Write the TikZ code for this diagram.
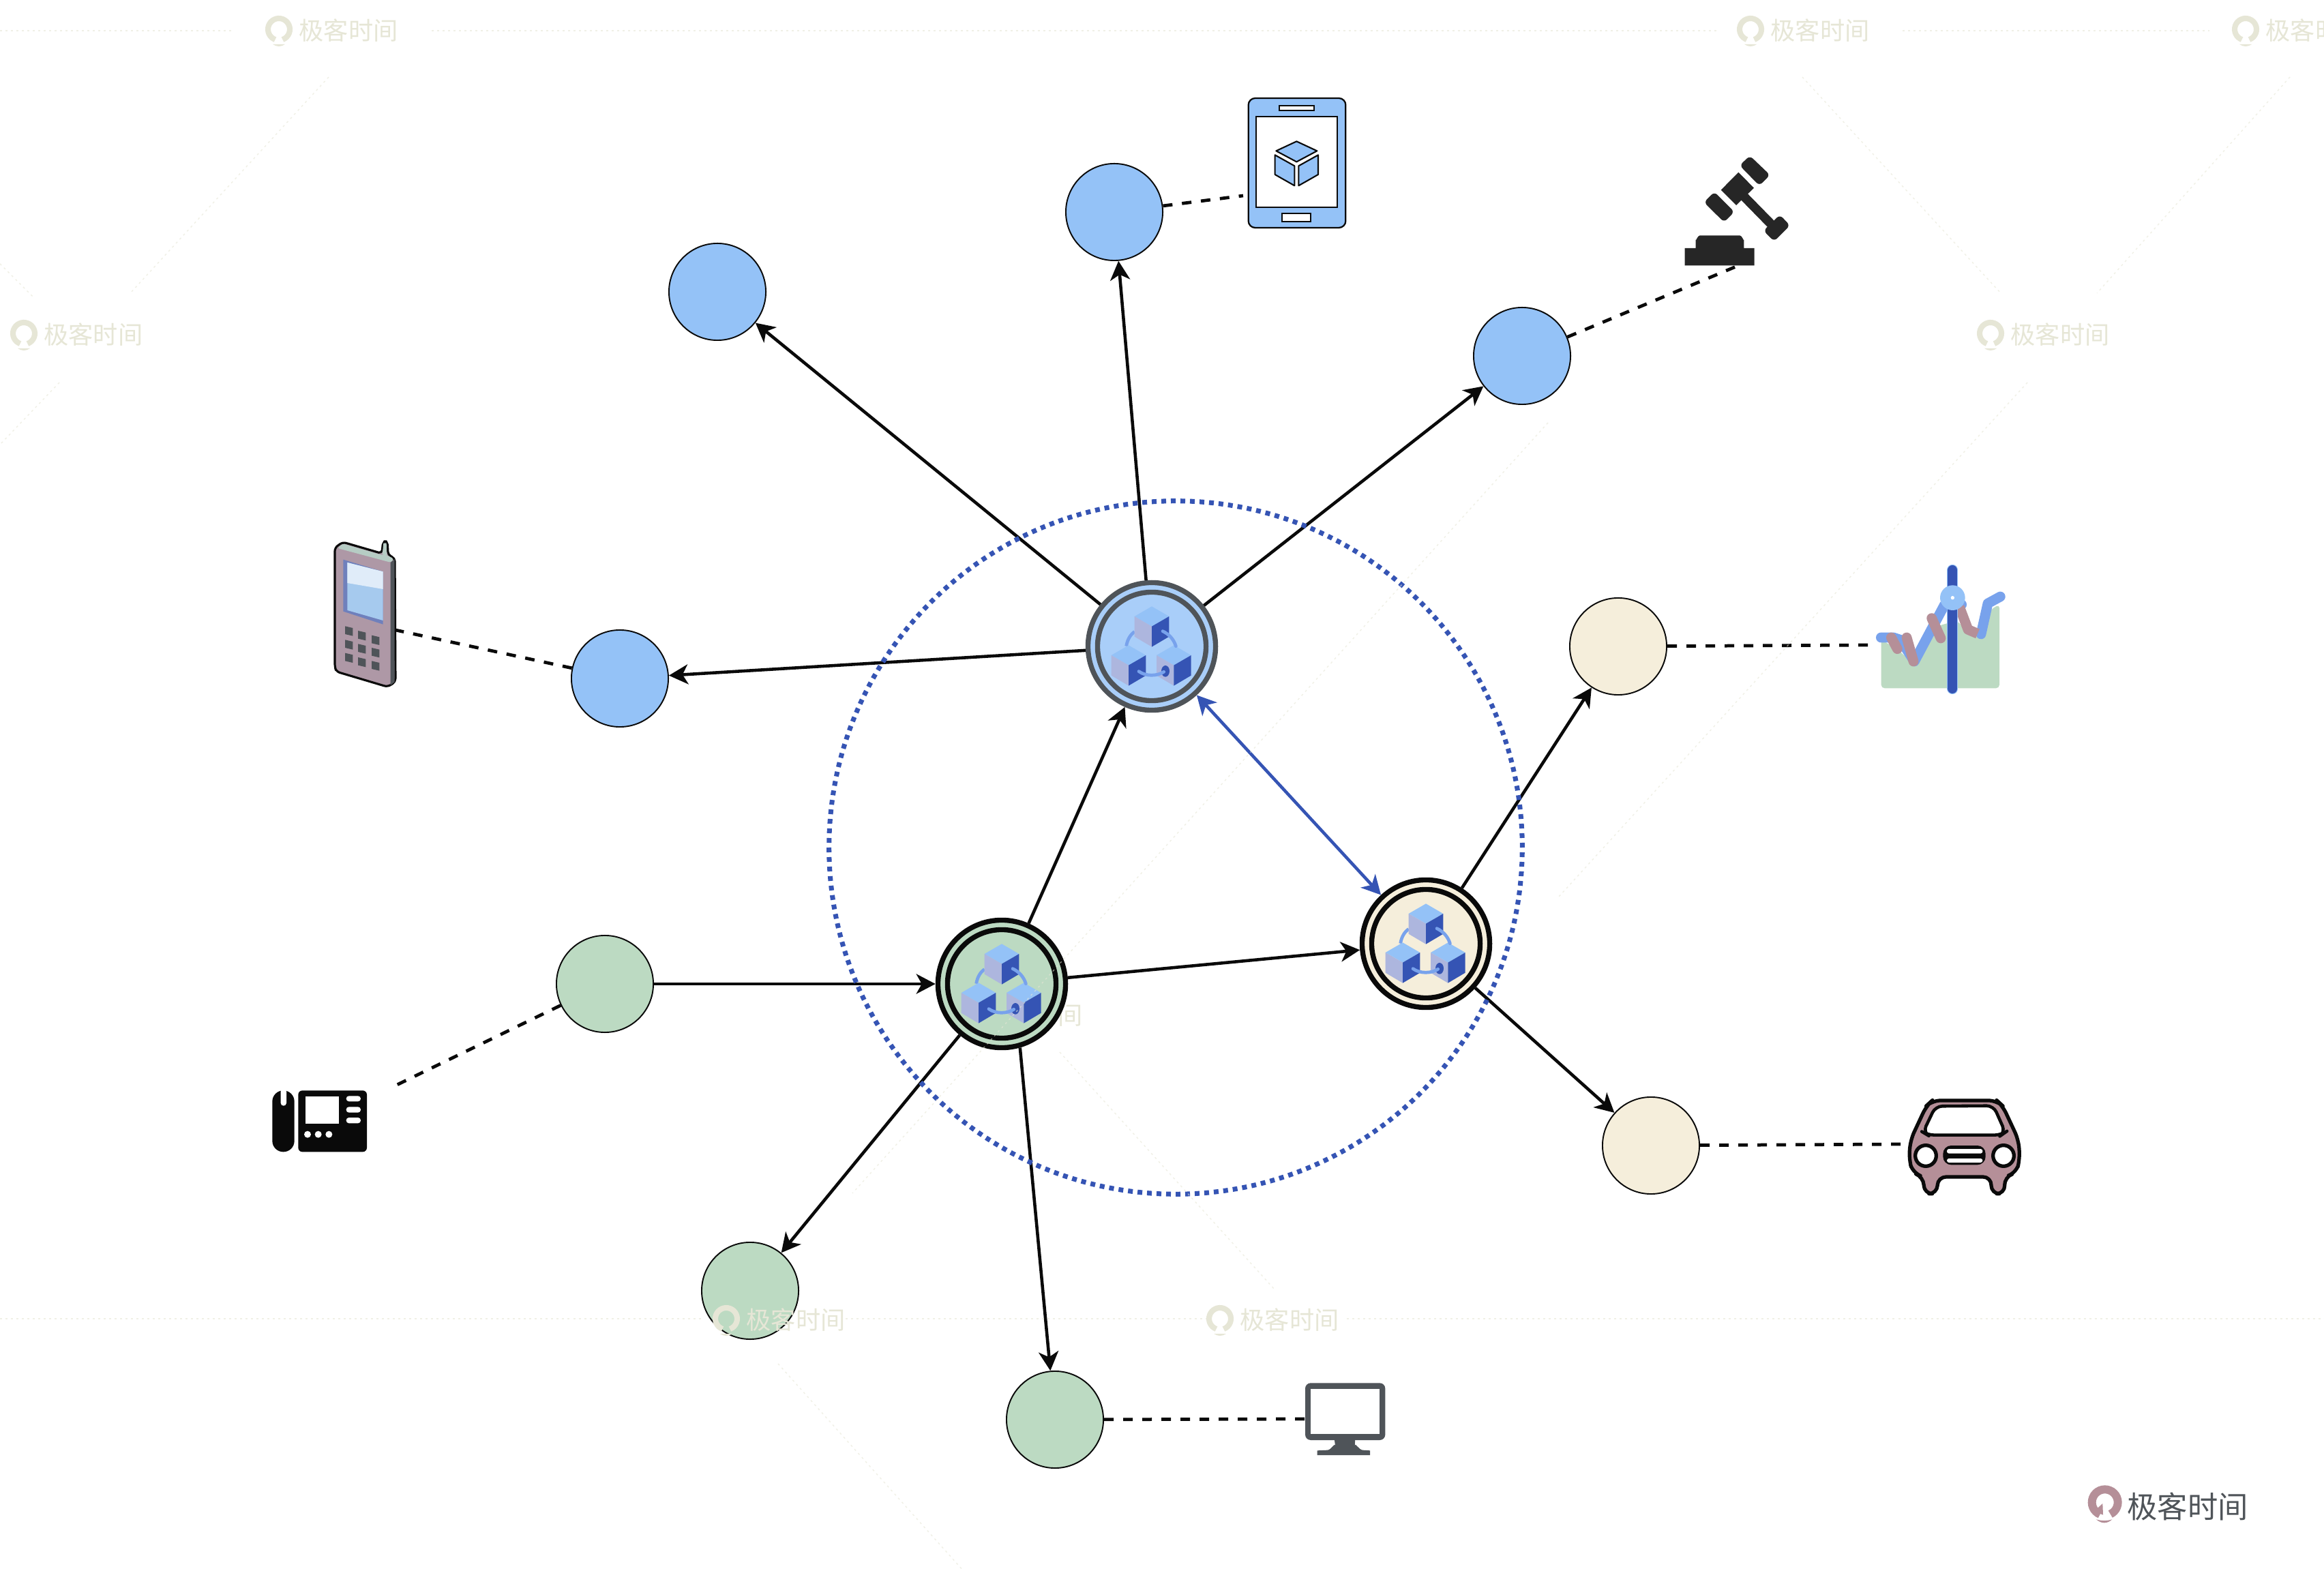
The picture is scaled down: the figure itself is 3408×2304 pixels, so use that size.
\documentclass[tikz,border=0pt]{standalone}
\usepackage{fontspec}
\newfontfamily\cjk{Noto Sans CJK SC}
\usetikzlibrary{arrows.meta}
\definecolor{lblue}{HTML}{94C2F7}
\definecolor{hubblue}{HTML}{A9CEF9}
\definecolor{dblue}{HTML}{3554B4}
\definecolor{midblue}{HTML}{78A2EC}
\definecolor{faceblue}{HTML}{ADB6DE}
\definecolor{cream}{HTML}{F5EEDB}
\definecolor{lgreen}{HTML}{BCDAC2}
\definecolor{mauve}{HTML}{B58F98}
\definecolor{mobilebody}{HTML}{AE98A6}
\definecolor{mobileedge}{HTML}{6F80BC}
\definecolor{mobilescreen}{HTML}{A6CAEE}
\definecolor{mobiletop}{HTML}{B6CCC4}
\definecolor{dgray}{HTML}{4F5459}
\definecolor{ink}{HTML}{0A0A0A}
\definecolor{gavelc}{HTML}{262626}
\definecolor{wm}{HTML}{E6E6D6}
\tikzset{
  small/.style={circle,draw=ink,line width=0.55pt,minimum size=1.42cm,inner sep=0pt},
  hub/.style={circle,draw=#1,line width=2.1pt,minimum size=1.87cm,inner sep=0pt},
  hubring/.style={circle,draw=#1,line width=2.1pt,minimum size=1.59cm,inner sep=0pt},
  arr/.style={draw=ink,line width=1.3pt,-{Stealth[length=2.8mm,width=2.9mm,inset=0.8mm]}},
  bluearr/.style={draw=dblue,line width=1.3pt,{Stealth[length=2.8mm,width=2.9mm,inset=0.8mm]}-{Stealth[length=2.8mm,width=2.9mm,inset=0.8mm]}},
  dashline/.style={draw=ink,line width=1.35pt,dash pattern=on 0.14cm off 0.14cm},
  faint/.style={draw=wm,line width=0.4pt,dash pattern=on 0.03cm off 0.05cm,opacity=.6},
  wmtext/.style={text=wm,font=\cjk\fontsize{10.3pt}{12pt}\selectfont,inner sep=0pt},
  logotext/.style={text=dgray,font=\cjk\fontsize{12.6pt}{14pt}\selectfont,inner sep=0pt},
}
% three linked cubes, drawn around a named centre
\newcommand{\cubeset}[1]{%
\begin{scope}[shift={(#1)},scale=1/3,shift={(-392,-373)}]
  \draw[midblue,line width=1.35pt] (280,372) .. controls (285,340) and (300,320) .. (316,308);
  \foreach \dx/\dy in {0/0,-102/171,97/171}{
    \begin{scope}[shift={(\dx,\dy)}]
      \fill[lblue] (392,197)--(468,241)--(392,285)--(316,241)--cycle;
      \fill[faceblue] (316,241)--(392,285)--(392,375)--(316,330)--cycle;
      \fill[dblue] (392,285)--(468,241)--(468,330)--(392,375)--cycle;
    \end{scope}}
  \fill[dblue] (452,482) ellipse[x radius=18,y radius=25];
  \draw[midblue,line width=1.35pt,line cap=round] (440,306) .. controls (470,320) and (490,345) .. (498,372);
  \draw[midblue,line width=1.35pt,line cap=round] (335,483) .. controls (365,505) and (415,505) .. (445,485);
\end{scope}}
% faint watermark: ring + text
\newcommand{\wmark}[3]{%
\begin{scope}[shift={(#2,#3)}]
  \draw[wm,line width=2.3pt] (110:16) arc[start angle=110,end angle=430,radius=16];
  \fill[wm] (-9,22) .. controls (-3,26) and (3,26) .. (9,22) -- cycle;
  \node[wmtext] (#1) at (102,2) {极客时间};
\end{scope}}
\begin{document}
\begin{tikzpicture}[x=0.01cm,y=-0.01cm]
\useasboundingbox (0,0) rectangle (3408,2304);
\fill[white] (0,0) rectangle (3408,2304);

% watermark lying behind the green hub
\wmark{wm8}{1413}{1487}

% small circles
\node[small,fill=lblue] (b1) at (1052,428) {};
\node[small,fill=lblue] (b2) at (1634,311) {};
\node[small,fill=lblue] (b3) at (2232,522) {};
\node[small,fill=lblue] (b4) at (909,995) {};
\node[small,fill=cream] (c1) at (2373,948) {};
\node[small,fill=cream] (c2) at (2421,1680) {};
\node[small,fill=lgreen] (g1) at (887,1443) {};
\node[small,fill=lgreen] (g2) at (1100,1893) {};
\node[small,fill=lgreen] (g3) at (1547,2082) {};

% hubs
\node[hub=dgray,fill=hubblue] (top) at (1689,948) {};
\node[hubring=dgray] (topring) at (top.center) {};
\node[hub=ink,fill=cream] (right) at (2091,1384) {};
\node[hubring=ink] (rightring) at (right.center) {};
\node[hub=ink,fill=lgreen] (left) at (1469,1443) {};
\node[hubring=ink] (leftring) at (left.center) {};
\cubeset{top.center}
\cubeset{right.center}
\cubeset{left.center}

% arrows
\draw[arr] (top) -- (b1);
\draw[arr] (top) -- (b2);
\draw[arr] (top) -- (b3);
\draw[arr] (top) -- (b4);
\draw[arr] (left) -- (top);
\draw[arr] (left) -- (right);
\draw[arr] (g1) -- (left);
\draw[arr] (left) -- (g2);
\draw[arr] (left.-74) -- (g3);
\draw[arr] (right) -- (c1);
\draw[arr] (right) -- (c2);
\draw[bluearr] (top) -- (right);

% dotted boundary
\draw[dblue,line width=2pt,dash pattern=on 0.07cm off 0.07cm] (1724,1243) circle[radius=5.08cm];

% dashed connectors
\coordinate (e-tablet) at (1823,287);
\coordinate (e-gavel) at (2548,390);
\coordinate (e-mobile) at (580,924);
\coordinate (e-chart) at (2740,946);
\coordinate (e-car) at (2787,1678);
\coordinate (e-desk) at (578,1593);
\coordinate (e-monitor) at (1913,2081);
\draw[dashline] (b2) -- (e-tablet);
\draw[dashline] (b3) -- (e-gavel);
\draw[dashline] (b4) -- (e-mobile);
\draw[dashline] (c1) -- (e-chart);
\draw[dashline] (c2) -- (e-car);
\draw[dashline] (g1) -- (e-desk);
\draw[dashline] (g3) -- (e-monitor);

% tablet
\begin{scope}[shift={(1760,120)},scale=1/3]
  \draw[ink,fill=lblue,line width=0.65pt,rounded corners=0.1cm] (212,72) rectangle (640,642);
  \draw[ink,fill=white,line width=0.65pt] (246,153) rectangle (603,551);
  \draw[ink,fill=white,line width=0.65pt] (349,105) rectangle (500,126);
  \draw[ink,fill=white,line width=0.65pt] (361,579) rectangle (487,614);
  \draw[ink,fill=lblue,line width=0.6pt,line join=round] (424,262)--(514,304)--(424,352)--(334,304)--cycle;
  \draw[ink,fill=lblue,line width=0.6pt,line join=round] (329,322)--(415,370)--(415,457)--(329,408)--cycle;
  \draw[ink,fill=lblue,line width=0.6pt,line join=round] (433,370)--(519,322)--(519,408)--(433,457)--cycle;
\end{scope}

% gavel
\begin{scope}[shift={(2440,200)},scale=1/3]
  \fill[gavelc] (92,492)--(140,492)--(140,455) to[out=-90,in=180] (158,436)--(334,436) to[out=0,in=-90] (352,455)--(352,492)--(398,492)--(398,568)--(92,568)--cycle;
  \fill[gavelc] (328,158)--(396,227)--(318,303)--(251,236)--cycle;
  \draw[gavelc,line width=3.8pt] (350,262)--(490,405);
  \fill[gavelc,rounded corners=0.06cm] (510,345)--(555,392)--(485,462)--(438,415)--cycle;
  \fill[gavelc,rounded corners=0.06cm] (378,85)--(467,170)--(420,217)--(333,128)--cycle;
  \fill[gavelc,rounded corners=0.06cm] (222,244)--(310,332)--(265,378)--(176,290)--cycle;
\end{scope}

% mobile phone
\begin{scope}[shift={(460,770)},scale=1/3]
  \draw[ink,fill=mobilebody,line width=0.9pt,line join=round,rounded corners=0.05cm]
    (128,75)--(300,125)--(305,72)--(325,72)--(327,132)--(357,145)--(360,690)--(325,712)--(100,645)--(93,625)--(93,100)--cycle;
  \fill[mobiletop,rounded corners=0.03cm] (128,82)--(300,132)--(320,132)--(352,148)--(340,165)--(105,102)--cycle;
  \fill[mobiletop] (307,80)--(320,80)--(322,135)--(302,130)--cycle;
  \fill[dgray] (338,165)--(356,150)--(356,690)--(338,705)--cycle;
  \fill[mobileedge] (130,152)--(305,205)--(305,437)--(130,380)--cycle;
  \fill[mobilescreen] (148,165)--(305,205)--(305,420)--(148,375)--cycle;
  \fill[white!65!mobilescreen] (148,165)--(305,205)--(305,282)--(148,255)--cycle;
  \foreach \kx/\ky in {155/465,212/485,272/505,155/525,212/543,272/560,155/583,212/602,272/618}{
    \fill[dgray] (\kx-17,\ky-20)--(\kx+17,\ky-12)--(\kx+17,\ky+23)--(\kx-17,\ky+15)--cycle;
  }
\end{scope}

% chart
\begin{scope}[shift={(2720,810)},scale=1/3]
  \fill[lgreen,rounded corners=0.05cm] (116,385)--(185,425)--(258,490)--(345,330)--(450,300)--(500,360)--(555,370)--(600,250)--(636,230)--(636,598)--(116,598)--cycle;
  \draw[midblue,line width=4.2pt,line join=round,line cap=round] (115,375)--(170,375)--(200,385)--(262,480)--(395,230)--(470,230);
  \draw[midblue,line width=4.2pt,line join=round,line cap=round] (555,360)--(585,225)--(640,195);
  \draw[mauve,line width=4.2pt,line cap=round] (160,375)--(187,425);
  \draw[mauve,line width=4.2pt,line cap=round] (228,375)--(258,480);
  \draw[mauve,line width=4.2pt,line cap=round] (338,290)--(378,378);
  \draw[mauve,line width=4.2pt,line join=round] (460,240)--(498,340)--(540,358);
  \draw[lblue,line width=4.6pt,line cap=round] (430,78)--(430,600);
  \draw[dblue,line width=4pt,line cap=round] (430,78)--(430,600);
  \fill[lblue] (430,200) circle[radius=55];
  \fill[white] (430,200) circle[radius=8];
\end{scope}

% car
\begin{scope}[shift={(2770,1590)},scale=1/3]
  \draw[ink,fill=mauve,line width=1.5pt,line join=round,rounded corners=0.12cm]
    (190,72)--(475,72)--(500,95)--(570,245)--(576,330)--(560,390)--(508,408)--(510,482)--(450,482)--(450,408)--(215,408)--(212,482)--(155,482)--(152,408)--(105,390)--(88,330)--(95,245)--(165,95)--cycle;
  \draw[ink,fill=white,line width=1.3pt,line join=round,rounded corners=0.1cm]
    (205,97)--(460,95)--(512,212)--(495,224)--(170,224)--(150,212)--cycle;
  \draw[ink,fill=white,line width=1.5pt] (162,315) circle[radius=46];
  \draw[ink,fill=white,line width=1.5pt] (504,315) circle[radius=46];
  \fill[ink,rounded corners=0.12cm] (238,270) rectangle (425,355);
  \fill[white,rounded corners=0.03cm] (255,285) rectangle (412,305);
  \fill[white,rounded corners=0.03cm] (255,327) rectangle (412,345);
\end{scope}

% desk phone
\begin{scope}[shift={(380,1580)},scale=1/3]
  \fill[ink,rounded corners=0.16cm] (58,58) rectangle (155,328);
  \fill[white,rounded corners=0.04cm] (95,50) rectangle (120,125);
  \fill[ink,rounded corners=0.06cm] (172,58) rectangle (474,328);
  \fill[white] (203,85) rectangle (352,205);
  \fill[white,rounded corners=0.04cm] (383,82) rectangle (447,106);
  \fill[white,rounded corners=0.04cm] (383,130) rectangle (447,155);
  \fill[white,rounded corners=0.04cm] (383,177) rectangle (447,202);
  \fill[white] (213,251) circle[radius=15] (260,251) circle[radius=15] (307,251) circle[radius=15];
\end{scope}

% monitor
\begin{scope}[shift={(1890,2010)},scale=1/3]
  \fill[dgray] (200,300)--(204,330) to[out=90,in=0] (170,350)--(125,352)--(125,372)--(357,372)--(357,352)--(325,350) to[out=180,in=90] (290,330)--(292,300)--cycle;
  \fill[dgray,rounded corners=0.08cm] (72,55) rectangle (424,306);
  \fill[white] (97,82) rectangle (399,280);
\end{scope}

% logo bottom right
\begin{scope}[shift={(3040,2160)},scale=1/3]
  \draw[mauve,line width=3.4pt] (140,130)++(112:57) arc[start angle=112,end angle=425,radius=57];
  \fill[mauve] (92,170)--(130,135)--(132,185)--cycle;
  \fill[mauve] (102,205) .. controls (125,225) and (150,225) .. (172,205) .. controls (150,212) and (125,212) .. (102,205) -- cycle;
\end{scope}
\node[logotext] (logotxt) at (3208,2209) {极客时间};

% watermarks
\wmark{wm1}{409}{43}
\wmark{wm2}{2567}{43}
\wmark{wm3}{3293}{43}
\wmark{wm4}{35}{489}
\wmark{wm5}{2919}{489}
\wmark{wm6}{1065}{1934}
\wmark{wm7}{1789}{1934}
\draw[faint] (0,45)--(344,45) (633,45)--(2520,45) (2790,45)--(3240,45);
\draw[faint] (0,1934)--(1030,1934) (1240,1934)--(1770,1934) (1975,1934)--(3408,1934);
\draw[faint] (482,113)--(191,430) (0,387)--(48,435) (87,561)--(0,652);
\draw[faint] (2643,113)--(2934,430) (3358,113)--(3075,430);
\draw[faint] (2973,561)--(2286,1315) (2270,620)--(1250,1750);
\draw[faint] (1554,1543)--(1869,1891) (1141,2000)--(1413,2304);
\end{tikzpicture}
\end{document}
